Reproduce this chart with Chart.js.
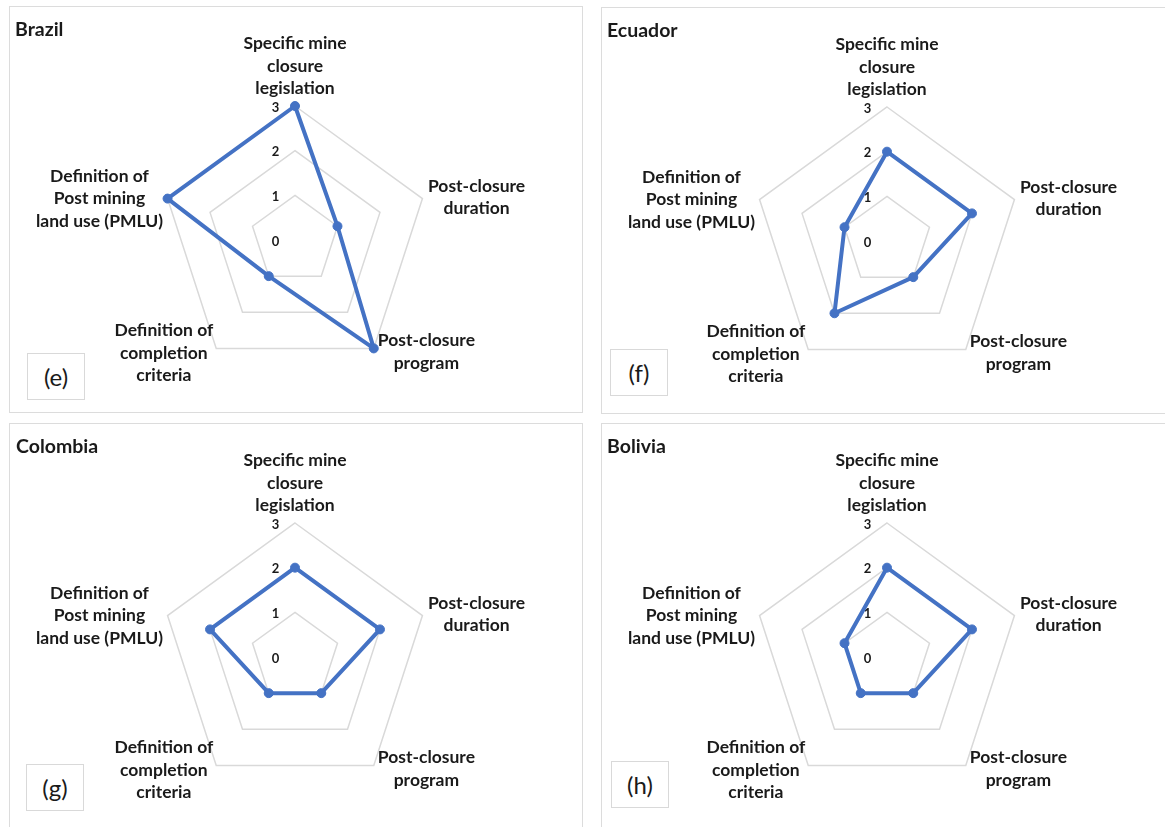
<!DOCTYPE html>
<html>
<head>
<meta charset="utf-8">
<script src="https://cdn.jsdelivr.net/npm/chart.js@4.4.1/dist/chart.umd.min.js"></script>
<style>
  html, body { margin: 0; padding: 0; background: #fff; }
  #page { position: relative; width: 1165px; height: 827px; overflow: hidden;
          font-family: Lato, "Open Sans", sans-serif; color: #1a1a1a; }
  .panel { position: absolute; width: 574px; height: 407px; }
  .frame { position: absolute; left: 0; top: 0; right: 0; bottom: 0;
           border: 1.5px solid #dcdcdc; box-sizing: border-box; }
  .panel canvas { position: absolute; left: 0; top: 0; }
  .title { position: absolute; left: 6px; top: 13px; font-weight: 700; font-size: 19.5px; line-height: 20px; }
  .tag { position: absolute; width: 58px; height: 47px; border: 1.5px solid #d9d9d9; box-sizing: border-box;
         font-size: 24px; display: flex; align-items: center; justify-content: center; background: #fff; }
</style>
</head>
<body>
<div id="page">
  <div class="panel" style="left:9px;top:6px;">
    <div class="frame"></div>
    <canvas id="cBrazil" width="574" height="407"></canvas>
    <div class="title">Brazil</div>
    <div class="tag" style="left:18px;top:347px;">(e)</div>
  </div>
  <div class="panel" style="left:601px;top:7px;">
    <div class="frame"></div>
    <canvas id="cEcuador" width="574" height="407"></canvas>
    <div class="title">Ecuador</div>
    <div class="tag" style="left:9px;top:342px;">(f)</div>
  </div>
  <div class="panel" style="left:9px;top:423px;">
    <div class="frame"></div>
    <canvas id="cColombia" width="574" height="407"></canvas>
    <div class="title" style="left:7px;">Colombia</div>
    <div class="tag" style="left:17px;top:341px;">(g)</div>
  </div>
  <div class="panel" style="left:601px;top:423px;">
    <div class="frame"></div>
    <canvas id="cBolivia" width="574" height="407"></canvas>
    <div class="title">Bolivia</div>
    <div class="tag" style="left:10px;top:338px;">(h)</div>
  </div>
</div>
<script>
// Axis categories (one array of lines per axis label)
const criteria = [
  ['Specific mine', 'closure', 'legislation'],
  ['Post-closure', 'duration'],
  ['Post-closure', 'program'],
  ['Definition of', 'completion', 'criteria'],
  ['Definition of', 'Post mining', 'land use (PMLU)']
];

// Scores per country, in the order of the criteria above
const brazilScores   = [3, 1, 3, 1, 3];
const ecuadorScores  = [2, 2, 1, 2, 1];
const colombiaScores = [2, 2, 1, 1, 2];
const boliviaScores  = [2, 2, 1, 1, 1];

// Radial tick values
const scoreTicks = [0, 1, 2, 3];

const LINE_BLUE = '#4472C4';
const TEXT_COLOR = '#1a1a1a';
const FONT_FAMILY = 'Lato, "Open Sans", sans-serif';

// Draws the score values beside the vertical axis and the multi-line axis titles
const axisTextPlugin = {
  id: 'axisText',
  beforeDatasetsDraw(chart) {
    const r = chart.scales.r;
    const ctx = chart.ctx;
    ctx.save();
    ctx.font = 'bold 13px ' + FONT_FAMILY;
    ctx.fillStyle = TEXT_COLOR;
    ctx.textAlign = 'center';
    ctx.textBaseline = 'alphabetic';
    scoreTicks.forEach(v => {
      const p = r.getPointPosition(0, r.getDistanceFromCenterForValue(v));
      ctx.fillText(String(v), p.x - 19.5, p.y + 1 + 4.6);
    });
    ctx.restore();
  },
  afterDraw(chart) {
    const r = chart.scales.r;
    const ctx = chart.ctx;
    const lineH = 22.5;
    ctx.save();
    ctx.font = 'bold 17.5px ' + FONT_FAMILY;
    ctx.fillStyle = TEXT_COLOR;
    ctx.textAlign = 'center';
    ctx.textBaseline = 'alphabetic';
    chart.data.labels.forEach((lines, i) => {
      const v = r.getPointPosition(i, r.drawingArea);
      const n = lines.length;
      const blockW = Math.max(...lines.map(s => ctx.measureText(s).width));
      let cx, mid;
      if (i === 0) {
        cx = v.x;
        mid = v.y - 18 - (n - 1) * lineH / 2;
      } else if (i === 1) {
        cx = v.x + 5.5 + blockW / 2; mid = v.y - 2;
      } else if (i === 2) {
        cx = v.x + 4 + blockW / 2; mid = v.y + 3;
      } else if (i === 3) {
        cx = v.x - 3 - blockW / 2; mid = v.y + 4;
      } else {
        cx = v.x - 4.5 - blockW / 2; mid = v.y - 0.5;
      }
      lines.forEach((s, k) => {
        const cy = mid + (k - (n - 1) / 2) * lineH;
        ctx.fillText(s, cx, cy + 6.3);
      });
    });
    ctx.restore();
  }
};

function makeRadar(canvasId, scores) {
  return new Chart(document.getElementById(canvasId), {
    type: 'radar',
    data: {
      labels: criteria,
      datasets: [{
        data: scores,
        borderColor: LINE_BLUE,
        backgroundColor: LINE_BLUE,
        borderWidth: 4,
        borderJoinStyle: 'round',
        pointRadius: 4.5,
        pointBackgroundColor: LINE_BLUE,
        pointBorderColor: LINE_BLUE,
        pointBorderWidth: 1,
        fill: false,
        tension: 0
      }]
    },
    options: {
      responsive: false,
      animation: false,
      layout: { padding: { left: 152, right: 154, top: 100, bottom: 39 } },
      plugins: { legend: { display: false }, tooltip: { enabled: false } },
      scales: {
        r: {
          min: 0,
          max: 3,
          ticks: { display: false, stepSize: 1 },
          pointLabels: { display: false },
          angleLines: { display: false },
          grid: { color: '#d9d9d9', lineWidth: 1.5 }
        }
      }
    },
    plugins: [axisTextPlugin]
  });
}

makeRadar('cBrazil', brazilScores);
makeRadar('cEcuador', ecuadorScores);
makeRadar('cColombia', colombiaScores);
makeRadar('cBolivia', boliviaScores);
</script>
</body>
</html>
